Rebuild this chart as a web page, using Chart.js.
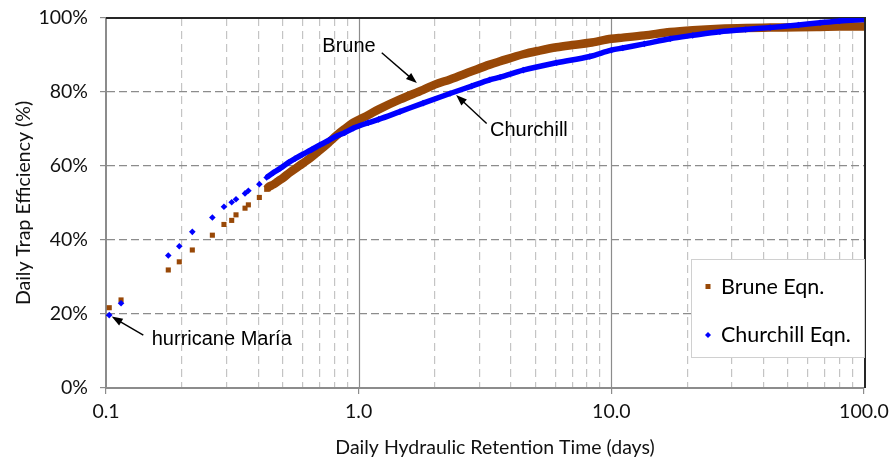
<!DOCTYPE html>
<html>
<head>
<meta charset="utf-8">
<script src="https://cdn.jsdelivr.net/npm/chart.js@4.4.1/dist/chart.umd.min.js"></script>
<style>
  html, body { margin: 0; padding: 0; background: #fff; }
</style>
</head>
<body>
<canvas id="myChart" width="893" height="462"></canvas>
<script>
// retention time (days) / trap efficiency (%)
const bruneX = [0.103, 0.1147, 0.1764, 0.195, 0.2196, 0.2636, 0.293, 0.3144, 0.327, 0.355, 0.366, 0.4045, 0.4325,
  0.44, 0.46, 0.48, 0.5, 0.535, 0.57, 0.604, 0.65, 0.703, 0.76, 0.819, 0.88, 0.952, 1.093, 1.2, 1.457, 1.8,
  2.0, 2.3, 2.8, 3.3, 3.63, 4.48, 5.2, 6.07, 7.0, 8.22, 10, 11.1, 13.5, 17.1, 21, 26.9, 34, 42.5, 55, 67, 80, 100];
const bruneY = [21.7, 23.8, 31.9, 34.1, 37.3, 41.3, 44.2, 45.3, 46.8, 48.6, 49.5, 51.5, 53.7,
  54.3, 55.0, 55.9, 56.7, 58.3, 59.6, 60.8, 62.4, 64.3, 66.3, 68.3, 70.0, 71.7, 73.8, 75.3, 78.0, 80.6,
  82.0, 83.4, 85.6, 87.4, 88.3, 90.2, 91.2, 92.1, 92.7, 93.3, 94.4, 94.7, 95.3, 96.2, 96.7, 97.1, 97.3, 97.4, 97.5, 97.6, 97.7, 97.7];

const churchX = [0.103, 0.1147, 0.1764, 0.195, 0.2196, 0.2636, 0.293, 0.3144, 0.327, 0.355, 0.366, 0.4045, 0.4325,
  0.459, 0.49, 0.527, 0.56, 0.595, 0.65, 0.703, 0.76, 0.819, 0.88, 0.952, 1.093, 1.2, 1.457, 1.8,
  2.3, 2.8, 3.3, 3.63, 4.48, 6.07, 8.22, 10, 11.1, 13.5, 17.1, 21, 26.9, 34, 42.5, 55, 67, 80, 100];
const churchY = [19.7, 22.9, 35.8, 38.3, 42.2, 46.1, 49.0, 50.2, 51.0, 52.6, 53.3, 55.1, 56.9,
  58.2, 59.4, 60.9, 62.0, 63.0, 64.4, 65.7, 66.9, 68.1, 69.0, 70.2, 71.7, 72.6, 74.7, 77.0,
  79.6, 81.6, 83.3, 84.0, 85.9, 87.9, 89.6, 91.3, 91.9, 93.0, 94.4, 95.3, 96.3, 96.9, 97.4, 98.1, 98.7, 99.2, 99.6];

const seriesNames = ['Brune Eqn.', 'Churchill Eqn.'];
const xTickValues = [0.1, 1, 10, 100];
const xTickLabels = ['0.1', '1.0', '10.0', '100.0'];
const yTickStep = 20;
const xTitle = 'Daily Hydraulic Retention Time (days)';
const yTitle = 'Daily Trap Efficiency (%)';
const noteTexts = ['Brune', 'Churchill', 'hurricane María'];

const BROWN = '#984807';
const BLUE = '#0000ff';
const FONT = 'Lato, "Noto Sans", sans-serif';
const gapBelow = 0.43; // below this the daily points stand apart

function toPoints(xs, ys) {
  return xs.map((v, i) => ({ x: v, y: ys[i] }));
}

// solid decade lines + dark top/right frame
const frame = {
  id: 'frame',
  beforeDatasetsDraw(chart) {
    const { ctx, chartArea: a, scales: { x } } = chart;
    ctx.save();
    ctx.strokeStyle = '#8c8c8c';
    ctx.lineWidth = 1.2;
    xTickValues.slice(1, -1).forEach(v => {
      const px = Math.round(x.getPixelForValue(v)) + 0.5;
      ctx.beginPath(); ctx.moveTo(px, a.top); ctx.lineTo(px, a.bottom); ctx.stroke();
    });
    ctx.strokeStyle = '#262626';
    ctx.lineWidth = 2;
    ctx.beginPath();
    ctx.moveTo(a.left, a.top); ctx.lineTo(a.right + 1, a.top); ctx.lineTo(a.right + 1, a.bottom);
    ctx.stroke();
    ctx.restore();
  }
};

function arrow(ctx, x0, y0, x1, y1) {
  const ang = Math.atan2(y1 - y0, x1 - x0);
  const len = 11, half = 4;
  ctx.beginPath();
  ctx.moveTo(x0, y0);
  ctx.lineTo(x1 - Math.cos(ang) * len * 0.8, y1 - Math.sin(ang) * len * 0.8);
  ctx.stroke();
  ctx.beginPath();
  ctx.moveTo(x1, y1);
  ctx.lineTo(x1 - Math.cos(ang) * len - Math.sin(ang) * half, y1 - Math.sin(ang) * len + Math.cos(ang) * half);
  ctx.lineTo(x1 - Math.cos(ang) * len + Math.sin(ang) * half, y1 - Math.sin(ang) * len - Math.cos(ang) * half);
  ctx.closePath();
  ctx.fill();
}

// labels with arrows, anchored in data units; x title sits a little right of centre
const callouts = {
  id: 'callouts',
  afterDatasetsDraw(chart) {
    const { ctx, chartArea: a, scales: { x, y } } = chart;
    const notes = [
      { text: noteTexts[0], tip: [1.70, 82.4], tail: [1.234, 90.6], at: [0.916, 92.4], align: 'center' },
      { text: noteTexts[1], tip: [2.43, 79.2], tail: [3.21, 71.5], at: [3.31, 69.7], align: 'left' },
      { text: noteTexts[2], tip: [0.1053, 19.3], tail: [0.1405, 14.3], at: [0.1517, 13.2], align: 'left' }
    ];
    ctx.save();
    ctx.strokeStyle = '#000';
    ctx.fillStyle = '#000';
    ctx.lineWidth = 1.4;
    ctx.font = '20px "Liberation Sans", Arial, sans-serif';
    ctx.textBaseline = 'middle';
    notes.forEach(n => {
      arrow(ctx, x.getPixelForValue(n.tail[0]), y.getPixelForValue(n.tail[1]),
        x.getPixelForValue(n.tip[0]), y.getPixelForValue(n.tip[1]));
      ctx.textAlign = n.align;
      ctx.fillText(n.text, x.getPixelForValue(n.at[0]), y.getPixelForValue(n.at[1]));
    });
    ctx.fillStyle = '#111';
    ctx.font = '19.5px ' + FONT;
    ctx.textAlign = 'center';
    ctx.fillText(xTitle, (a.left + a.right) / 2 + 10, a.bottom + 60);
    ctx.restore();
  }
};

// boxed legend at the lower right of the plot
const boxLegend = {
  id: 'boxLegend',
  afterDraw(chart) {
    const { ctx, chartArea: a } = chart;
    const w = 173, h = 98;
    const left = a.right - w, top = a.bottom - 31 - h;
    ctx.save();
    ctx.fillStyle = '#fff';
    ctx.fillRect(left, top, w, h);
    ctx.strokeStyle = '#d0d0d0';
    ctx.lineWidth = 1;
    ctx.strokeRect(left + 0.5, top + 0.5, w, h);
    ctx.font = '21.5px ' + FONT;
    ctx.textBaseline = 'middle';
    ctx.textAlign = 'left';
    chart.data.datasets.forEach((ds, i) => {
      const cy = top + 28 + i * 48;
      const mx = left + 17;
      ctx.fillStyle = ds.pointBackgroundColor;
      if (i === 0) {
        ctx.fillRect(mx - 2.5, cy - 3, 5, 5);
      } else {
        ctx.beginPath();
        ctx.moveTo(mx, cy - 3); ctx.lineTo(mx + 3, cy); ctx.lineTo(mx, cy + 3); ctx.lineTo(mx - 3, cy);
        ctx.closePath(); ctx.fill();
      }
      ctx.fillStyle = '#000';
      ctx.fillText(ds.label, left + 30, cy);
    });
    ctx.restore();
  }
};

function isDecade(v) {
  return xTickValues.some(d => Math.abs(d - v) < 1e-9);
}

const ctx = document.getElementById('myChart').getContext('2d');
const myChart = new Chart(ctx, {
  type: 'scatter',
  data: {
    datasets: [{
      label: seriesNames[0],
      data: toPoints(bruneX, bruneY),
      showLine: true,
      borderColor: BROWN,
      borderWidth: 8.5,
      cubicInterpolationMode: 'monotone',
      segment: { borderColor: c => c.p0.parsed.x < gapBelow ? 'transparent' : BROWN },
      pointStyle: 'rect',
      pointRadius: 3.6,
      pointBorderWidth: 0,
      pointBackgroundColor: BROWN,
      order: 2
    }, {
      label: seriesNames[1],
      data: toPoints(churchX, churchY),
      showLine: true,
      borderColor: BLUE,
      borderWidth: 5.5,
      cubicInterpolationMode: 'monotone',
      segment: { borderColor: c => c.p0.parsed.x < gapBelow ? 'transparent' : BLUE },
      pointStyle: 'rectRot',
      pointRadius: 3.3,
      pointBorderWidth: 0,
      pointBackgroundColor: BLUE,
      order: 1
    }]
  },
  options: {
    responsive: false,
    animation: false,
    layout: { padding: { top: 18, right: 29, left: 0, bottom: 0 } },
    plugins: {
      legend: { display: false },
      tooltip: { enabled: false }
    },
    scales: {
      x: {
        type: 'logarithmic',
        min: 0.1,
        max: 100,
        afterBuildTicks(s) {
          const t = [];
          xTickValues.slice(0, -1).forEach(d => {
            for (let k = 1; k <= 9; k++) t.push({ value: Number((k * d).toPrecision(3)) });
          });
          t.push({ value: xTickValues[xTickValues.length - 1] });
          s.ticks = t;
        },
        afterFit(s) { s.height = 74; s.paddingLeft = 0; s.paddingRight = 0; },
        ticks: {
          autoSkip: false,
          maxRotation: 0,
          padding: 6,
          color: '#111',
          font: { family: FONT, size: 19.5 },
          callback(v) {
            const i = xTickValues.findIndex(d => Math.abs(d - v) < 1e-9);
            return i >= 0 ? xTickLabels[i] : '';
          }
        },
        grid: {
          color: c => (c.tick && isDecade(c.tick.value)) ? 'transparent' : '#c4c4c4',
          tickColor: c => (c.tick && isDecade(c.tick.value)) ? '#8c8c8c' : 'transparent',
          tickLength: 6,
          lineWidth: 1.2
        },
        border: { display: true, color: '#8c8c8c', width: 2, dash: [8, 5] },
        title: { display: false }
      },
      y: {
        min: 0,
        max: 100,
        afterFit(s) { s.width = 106; s.paddingTop = 0; s.paddingBottom = 0; },
        ticks: {
          stepSize: yTickStep,
          padding: 12,
          color: '#111',
          font: { family: FONT, size: 19.5 },
          callback: v => v + '%'
        },
        grid: {
          color: c => (c.tick && c.tick.value === 0) ? 'transparent' : '#8c8c8c',
          tickColor: '#8c8c8c',
          tickLength: 6,
          lineWidth: 1.2
        },
        border: { display: true, color: '#8c8c8c', width: 2, dash: [8, 4] },
        title: {
          display: true,
          text: yTitle,
          color: '#111',
          font: { family: FONT, size: 19.5 },
          padding: { top: 12, bottom: 0 }
        }
      }
    }
  },
  plugins: [frame, callouts, boxLegend]
});
</script>
</body>
</html>
